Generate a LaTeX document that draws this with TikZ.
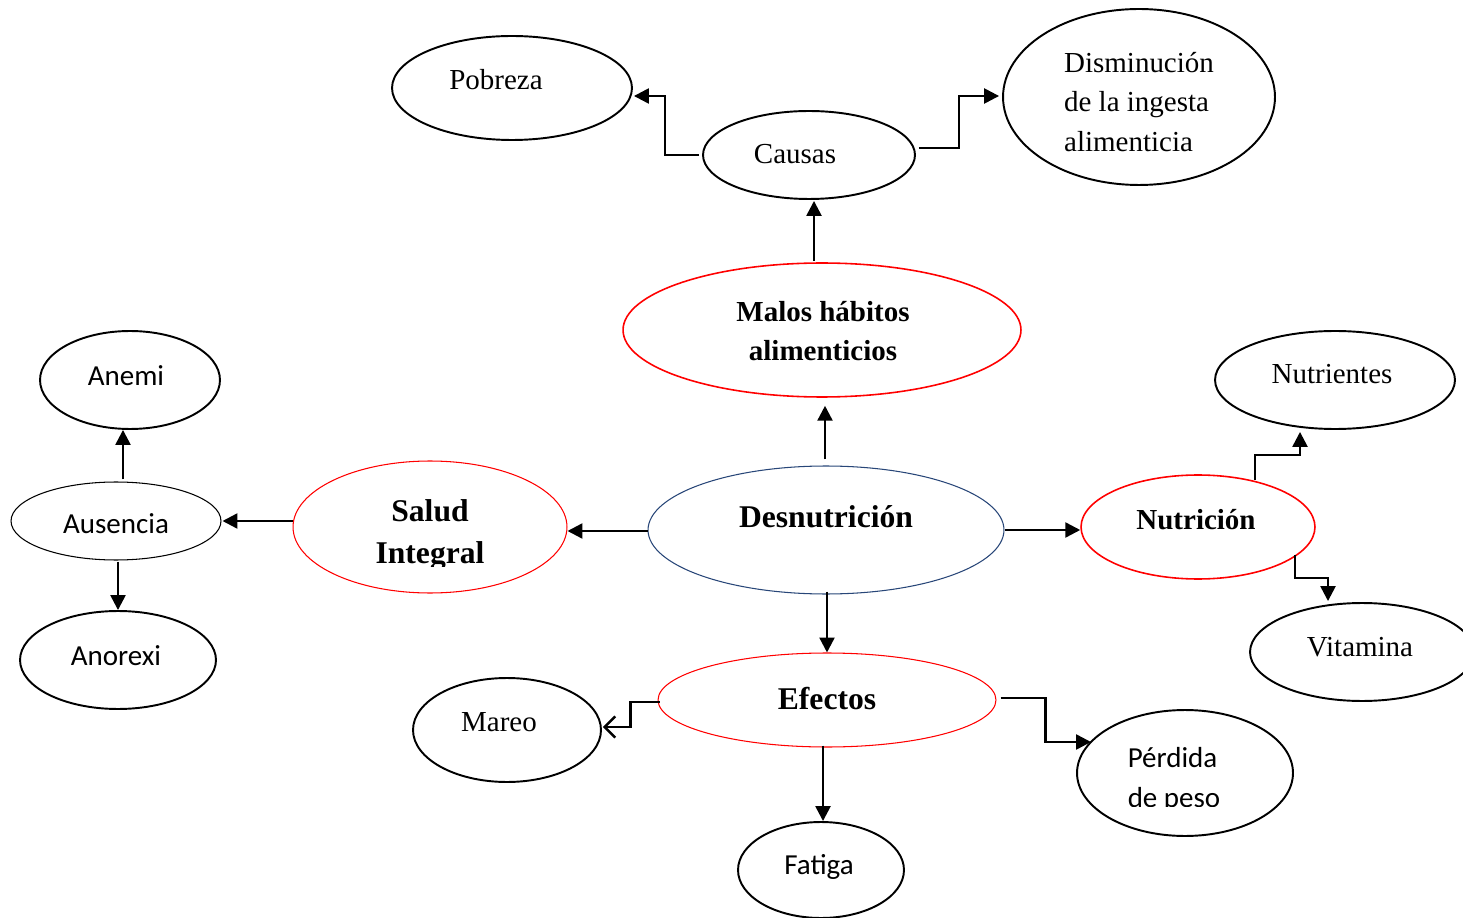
\documentclass[tikz,border=0pt]{standalone}
\usepackage{fontspec}
\setmainfont{Liberation Serif}
\newfontfamily\calfont{Carlito}
\usetikzlibrary{shapes.geometric,arrows.meta,calc}
\definecolor{navy}{RGB}{40,70,120}
\tikzset{
  ell/.style={ellipse, draw=black, line width=1.1pt, inner sep=0pt},
  thin ell/.style={ell, line width=0.6pt},
  red ell/.style={ell, draw=red, line width=0.9pt},
  red thin/.style={ell, draw=red, line width=0.6pt},
  tnorm/.style={inner sep=0pt, align=center, font=\fontsize{16.5}{22.7}\selectfont},
  tbold/.style={inner sep=0pt, align=center, font=\fontsize{16.5}{22.1}\selectfont\bfseries},
  tbig/.style={inner sep=0pt, align=center, font=\fontsize{18}{24.4}\selectfont\bfseries},
  tcal/.style={inner sep=0pt, align=center, font=\fontsize{16.5}{22.7}\selectfont\calfont},
  conn/.style={line width=1.4pt, -{Triangle[length=8.5pt,width=8.5pt]}},
  barb/.style={line width=1.4pt, -{Straight Barb[length=6pt,width=12pt,line width=1.4pt]}}
}
\begin{document}
\begin{tikzpicture}[x=0.02cm, y=-0.02cm]
\useasboundingbox (0,0) rectangle (1463,918);
% ellipses
\node[ell, minimum width=4.8cm, minimum height=2.08cm] (pob) at (512,88) {};
\node[ell, minimum width=4.24cm, minimum height=1.76cm] (cau) at (809,155) {};
\node[ell, minimum width=5.44cm, minimum height=3.52cm] (dis) at (1139,97) {};
\node[red ell, minimum width=7.96cm, minimum height=2.68cm] (mal) at (822,330) {};
\node[ell, minimum width=3.6cm, minimum height=1.96cm] (ane) at (130,380) {};
\node[thin ell, minimum width=4.2cm, minimum height=1.56cm] (aus) at (116,521) {};
\node[ell, minimum width=3.92cm, minimum height=1.96cm] (ano) at (118,660) {};
\node[red thin, minimum width=5.48cm, minimum height=2.64cm] (sal) at (430,527) {};
\node[thin ell, draw=navy, minimum width=7.12cm, minimum height=2.56cm] (des) at (826,530) {};
\node[red ell, minimum width=4.68cm, minimum height=2.08cm] (nut) at (1198,527) {};
\node[ell, minimum width=4.8cm, minimum height=1.96cm] (ntr) at (1335,380) {};
\node[ell, minimum width=4.48cm, minimum height=1.96cm] (vit) at (1362,652) {};
\node[red thin, minimum width=6.76cm, minimum height=1.88cm] (efe) at (827,700) {};
\node[ell, minimum width=3.76cm, minimum height=2.08cm] (mar) at (507,730) {};
\node[ell, minimum width=4.32cm, minimum height=2.52cm] (per) at (1185,773) {};
\node[ell, minimum width=3.32cm, minimum height=1.92cm] (fat) at (821,870) {};
% texts
\node[tnorm] (tpob) at (496,80) {Pobreza};
\node[tnorm] (tcau) at (795,154) {Causas};
\node[tnorm, align=left] (tdis) at (1139,102) {Disminución\\de la ingesta\\alimenticia};
\node[tbold] (tmal) at (823,331) {Malos hábitos\\alimenticios};
\node[tcal] (tane) at (126,376) {Anemi};
\node[tcal] (taus) at (116,524) {Ausencia};
\node[tcal] (tano) at (116,656) {Anorexi};
\begin{scope}
\clip (280,480) rectangle (580,566);
\node[tbig] (tsal) at (430,535) {Salud\\Integral};
\end{scope}
\node[tbig] (tdes) at (826,517) {Desnutrición};
\node[tbold] (tnut) at (1196,520) {Nutrición};
\node[tnorm] (tntr) at (1332,374) {Nutrientes};
\node[tnorm] (tvit) at (1360,647) {Vitamina};
\node[tbig] (tefe) at (827,699) {Efectos};
\node[tnorm] (tmar) at (499,722) {Mareo};
\begin{scope}
\clip (1100,730) rectangle (1260,806);
\node[tcal, align=left] (tper) at (1174,780) {Pérdida\\de peso};
\end{scope}
\node[tcal] (tfat) at (819,867) {Fatiga};
% connectors
\draw[conn] ($(mal.north)+(-8,-1)$) -- ($(cau.south)+(5,1)$);
\draw[conn] ($(cau.west)+(-3,0)$) -- ++(-34,0) |- ($(pob.east)+(1,8)$);
\draw[conn] ($(cau.east)+(3,-7)$) -- ++(40,0) |- ($(dis.west)+(-3,-1)$);
\draw[conn] ($(des.north)+(-1,-6)$) -- ($(mal.south)+(3,8)$);
\draw[conn] ($(des.west)+(0,1)$) -- ($(des.west -| sal.east)+(0,1)$);
\draw[conn] (sal.west |- aus.east) -- ($(aus.east)+(1,0)$);
\draw[conn] ($(aus.north)+(7,-2)$) -- ($(ane.south)+(-7,0)$);
\draw[conn] ($(aus.south)+(2,1)$) -- (ano.north);
\draw[conn] (des.east) -- (des.east -| nut.west);
\draw[conn] ($(nut.center)+(57,-47)$) -- ++(0,-25) -| ($(ntr.south)+(-35,2)$);
\draw[conn] ($(nut.center)+(97,28)$) -- ++(0,23) -| ($(vit.north)+(-34,-1)$);
\draw[conn] ($(des.south)+(1,-3)$) -- ($(des.south |- efe.north)+(1,0)$);
\draw[barb] ($(efe.west)+(2,2)$) -- ++(-29,0) |- ($(mar.east)+(1,-3)$);
\draw[conn] ($(efe.east)+(4,-2)$) -- ++(45,0) |- ($(per.center)+(-94,-31)$);
\draw[conn] ($(efe.south)+(-4,-2)$) -- ($(fat.north)+(2,0)$);
\end{tikzpicture}
\end{document}
